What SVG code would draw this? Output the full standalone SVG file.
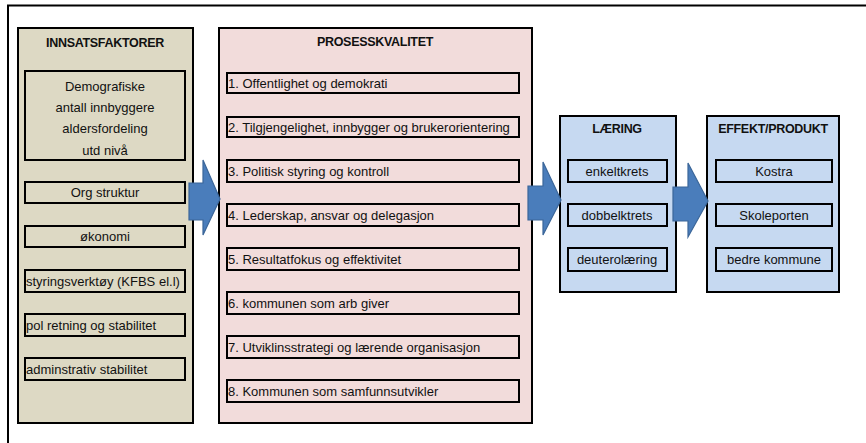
<svg xmlns="http://www.w3.org/2000/svg" width="866" height="443" viewBox="0 0 866 443">
<style>
text{font-family:"Liberation Sans",Arial,sans-serif;font-size:13px;fill:#111}
.t{font-weight:bold;text-anchor:middle;font-size:12.5px;letter-spacing:-0.3px}
.c{text-anchor:middle}
.panel{stroke:#000;stroke-width:2}
.item{fill:none;stroke:#000;stroke-width:2}
.arrow{fill:#4a7dbb;stroke:#3b6699;stroke-width:1.2}
</style>
<defs>
<linearGradient id="ag" x1="0" y1="0" x2="0" y2="1">
<stop offset="0" stop-color="#5287c6"/>
<stop offset="1" stop-color="#4274b0"/>
</linearGradient>
</defs>
<rect x="0" y="0" width="866" height="443" fill="#fff"/>
<rect x="8" y="5.5" width="880" height="460" fill="none" stroke="#000" stroke-width="2"/>

<g id="innsatsfaktorer">
<rect class="panel" x="18" y="28" width="175" height="395" fill="#ddd9c4"/>
<text class="t" x="105" y="47">INNSATSFAKTORER</text>
<rect class="item" x="25" y="71" width="160" height="89"/>
<text class="c" x="105" y="91">Demografiske</text>
<text class="c" x="105" y="112">antall innbyggere</text>
<text class="c" x="105" y="133">aldersfordeling</text>
<text class="c" x="105" y="155">utd nivå</text>
<rect class="item" x="25" y="182" width="160" height="21"/>
<text class="c" x="105" y="197">Org struktur</text>
<rect class="item" x="25" y="226" width="160" height="21"/>
<text class="c" x="105" y="241">økonomi</text>
<rect class="item" x="25" y="270" width="160" height="22"/>
<text x="26" y="286">styringsverktøy (KFBS el.l)</text>
<rect class="item" x="25" y="314" width="160" height="22"/>
<text x="26" y="330">pol retning og stabilitet</text>
<rect class="item" x="25" y="358" width="160" height="22"/>
<text x="26" y="374">adminstrativ stabilitet</text>
</g>

<g id="prosesskvalitet">
<rect class="panel" x="219" y="28" width="313" height="395" fill="#f2dcdb"/>
<text class="t" x="375" y="46">PROSESSKVALITET</text>
<rect class="item" x="227" y="73" width="292" height="20"/>
<text x="228" y="88">1. Offentlighet og demokrati</text>
<rect class="item" x="227" y="117" width="292" height="20"/>
<text x="228" y="132">2. Tilgjengelighet, innbygger og brukerorientering</text>
<rect class="item" x="227" y="160" width="292" height="22"/>
<text x="228" y="176">3. Politisk styring og kontroll</text>
<rect class="item" x="227" y="204" width="292" height="22"/>
<text x="228" y="220">4. Lederskap, ansvar og delegasjon</text>
<rect class="item" x="227" y="248" width="292" height="22"/>
<text x="228" y="264">5. Resultatfokus og effektivitet</text>
<rect class="item" x="227" y="292" width="292" height="22"/>
<text x="228" y="308">6. kommunen som arb giver</text>
<rect class="item" x="227" y="336" width="292" height="22"/>
<text x="228" y="352">7. Utviklinsstrategi og lærende organisasjon</text>
<rect class="item" x="227" y="380" width="292" height="22"/>
<text x="228" y="396">8. Kommunen som samfunnsutvikler</text>
</g>

<g id="laering">
<rect class="panel" x="560" y="116" width="116" height="176" fill="#c6d9f1"/>
<text class="t" x="617" y="133">LÆRING</text>
<rect class="item" x="568" y="160" width="99" height="22"/>
<text class="c" x="617" y="176">enkeltkrets</text>
<rect class="item" x="568" y="204" width="99" height="22"/>
<text class="c" x="617" y="220">dobbelktrets</text>
<rect class="item" x="568" y="248" width="99" height="23"/>
<text class="c" x="617" y="264">deuterolæring</text>
</g>

<g id="effekt">
<rect class="panel" x="707" y="116" width="132" height="176" fill="#c6d9f1"/>
<text class="t" x="773" y="133">EFFEKT/PRODUKT</text>
<rect class="item" x="716" y="160" width="116" height="22"/>
<text class="c" x="774" y="176">Kostra</text>
<rect class="item" x="716" y="204" width="116" height="22"/>
<text class="c" x="774" y="220">Skoleporten</text>
<rect class="item" x="716" y="248" width="116" height="23"/>
<text class="c" x="774" y="264">bedre kommune</text>
</g>

<g id="connectors">
<path class="arrow" fill="url(#ag)" d="M189,183 H203 V160 L220,199 L203,235 V220 H189 Z"/>
<path class="arrow" fill="url(#ag)" d="M528,186 H543 V162 L561,200 L543,235 V220 H528 Z"/>
<path class="arrow" fill="url(#ag)" d="M673,187 H688 V163 L708,201 L688,237 V221 H673 Z"/>
</g>
</svg>
